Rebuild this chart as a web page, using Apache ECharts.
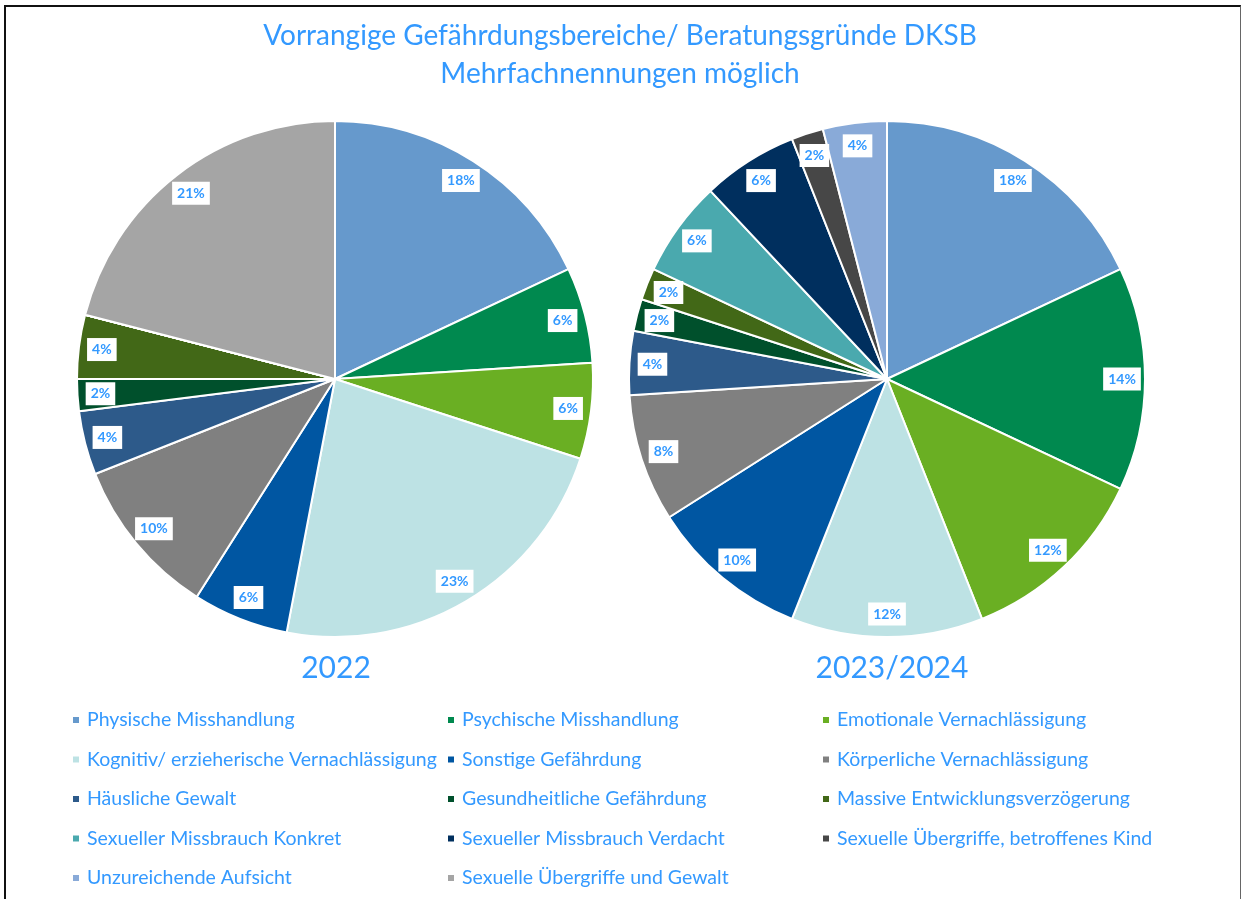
<!DOCTYPE html>
<html>
<head>
<meta charset="utf-8">
<script src="https://cdn.jsdelivr.net/npm/echarts@6.0.0/dist/echarts.min.js"></script>
<style>
  html, body { margin: 0; padding: 0; background: #fff; }
  #frame { position: absolute; left: 4px; top: 5px; width: 1234px; height: 900px;
           border: 2px solid #111; border-bottom: none; border-right: 1px solid #666; }
  #main { position: absolute; left: 0; top: 0; width: 1246px; height: 899px; }
</style>
</head>
<body>
<div id="frame"></div>
<div id="main"></div>
<script>
var categories = [
  'Physische Misshandlung',
  'Psychische Misshandlung',
  'Emotionale Vernachlässigung',
  'Kognitiv/ erzieherische Vernachlässigung',
  'Sonstige Gefährdung',
  'Körperliche Vernachlässigung',
  'Häusliche Gewalt',
  'Gesundheitliche Gefährdung',
  'Massive Entwicklungsverzögerung',
  'Sexueller Missbrauch Konkret',
  'Sexueller Missbrauch Verdacht',
  'Sexuelle Übergriffe, betroffenes Kind',
  'Unzureichende Aufsicht',
  'Sexuelle Übergriffe und Gewalt'
]
var values2022 = [18, 6, 6, 23, 6, 10, 4, 2, 4, 0, 0, 0, 0, 21]
var values2324 = [18, 14, 12, 12, 10, 8, 4, 2, 2, 6, 6, 2, 4, 0]
var yearLabels = ['2022', '2023/2024']

var palette = ['#6699cc', '#00894f', '#6aaf23', '#bde2e4', '#0056a2', '#808080',
  '#2d5a8a', '#00502c', '#426817', '#4aa9ae', '#002f5e', '#474747', '#89aad8', '#a5a5a5']

var blue = '#3399ff'
var font = 'Lato'

function buildData (vals) {
  return categories.map(function (name, i) {
    return { name: name, value: vals[i] }
  })
}

function pieSeries (vals, cx) {
  return {
    type: 'pie',
    center: [cx, 379],
    radius: [0, 258],
    startAngle: 90,
    clockwise: true,
    silent: true,
    label: { show: false },
    labelLine: { show: false },
    itemStyle: { borderColor: '#fff', borderWidth: 2 },
    data: buildData(vals)
  }
}

// transparent ring used only to place the percent labels near the rim
function labelSeries (vals, cx) {
  var data = buildData(vals).map(function (d) {
    if (!d.value) d.label = { show: false }
    return d
  })
  return {
    type: 'pie',
    center: [cx, 379],
    radius: [206, 258],
    startAngle: 90,
    silent: true,
    itemStyle: { color: 'transparent', borderWidth: 0 },
    labelLine: { show: false },
    label: {
      show: true,
      position: 'inside',
      formatter: '{c}%',
      color: blue,
      fontFamily: font,
      fontSize: 14,
      fontWeight: 'bold',
      backgroundColor: '#fff',
      padding: [5, 5, 4, 5]
    },
    data: data
  }
}

function legendCol (left, start) {
  var names = categories.filter(function (n, i) { return i % 3 === start })
  return {
    orient: 'vertical',
    left: left,
    top: 704,
    icon: 'rect',
    itemWidth: 8,
    itemHeight: 8,
    itemGap: 17.5,
    selectedMode: false,
    textStyle: { color: blue, fontFamily: font, fontSize: 19.5, lineHeight: 22, padding: [0, 0, 0, 2] },
    data: names
  }
}

var myChart = echarts.init(document.getElementById('main'))
myChart.setOption({
  color: palette,
  animation: false,
  title: [
    {
      text: 'Vorrangige Gefährdungsbereiche/ Beratungsgründe DKSB\nMehrfachnennungen möglich',
      left: 615,
      textAlign: 'center',
      top: 12,
      textStyle: { color: blue, fontFamily: font, fontSize: 28, fontWeight: 'normal', lineHeight: 38 }
    },
    {
      text: yearLabels[0],
      left: 331,
      top: 648,
      textAlign: 'center',
      textStyle: { color: blue, fontFamily: font, fontSize: 30, fontWeight: 'normal' }
    },
    {
      text: yearLabels[1],
      left: 887,
      top: 648,
      textAlign: 'center',
      textStyle: { color: blue, fontFamily: font, fontSize: 30, fontWeight: 'normal' }
    }
  ],
  legend: [
    legendCol(66, 0),
    legendCol(441, 1),
    legendCol(816, 2)
  ],
  series: [
    pieSeries(values2022, 335),
    pieSeries(values2324, 887),
    labelSeries(values2022, 335),
    labelSeries(values2324, 887)
  ]
})
</script>
</body>
</html>
